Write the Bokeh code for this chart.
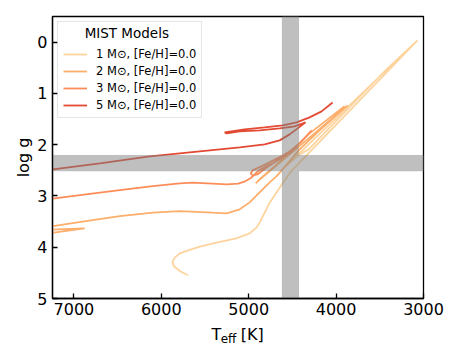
from bokeh.plotting import figure
from bokeh.models import Range1d, Label, FixedTicker, Legend, LegendItem
from bokeh.layouts import column
from bokeh.embed import file_html
from bokeh.resources import INLINE

# axis limits and ticks
X_START, X_END = 7245, 3000
Y_TOP, Y_BOTTOM = -0.5, 5.0
x_ticks = [7000, 6000, 5000, 4000, 3000]
y_ticks = [0, 1, 2, 3, 4, 5]

# highlighted bands
teff_band = [4615, 4430]
logg_band = [2.21, 2.51]

# MIST tracks (Teff [K], log g)
m1_teff = [5694, 5789, 5858, 5872, 5846, 5789, 5694, 5560, 5369, 5141, 4989, 4912, 4875, 4817,
           4760, 4684, 4608, 4512, 4272, 3720, 3389, 3069,
           4566, 4417, 4314, 3760, 3423, 3069]
m1_logg = [4.548, 4.464, 4.366, 4.288, 4.203, 4.119, 4.060, 3.988, 3.910, 3.827, 3.729, 3.618, 3.520, 3.326,
           3.131, 2.936, 2.741, 2.515, 2.092, 1.117, 0.532, -0.033,
           2.404, 2.189, 2.092, 1.117, 0.532, -0.033]

m2_teff = [7300, 6878, 7300, 7300, 7240, 6863, 6475, 6098, 5789, 5412, 5252, 5103, 4989, 4875,
           4760, 4680, 4612, 4417, 4189, 3869, 4897, 4920, 4852, 4703, 4532, 4303, 3903]
m2_logg = [3.73, 3.632, 3.66, 3.59, 3.587, 3.489, 3.392, 3.326, 3.294, 3.326, 3.339, 3.261, 3.125, 2.930,
           2.735, 2.612, 2.481, 2.092, 1.721, 1.234, 2.715, 2.754, 2.637, 2.423, 2.150, 1.780, 1.250]

m3_teff = [7240, 6863, 6475, 6098, 5789, 5640, 5412, 5252, 5120, 5040, 4975, 4932, 4897, 4840, 4726,
           4612, 4509, 4440, 4600, 4800, 4954, 4977, 4954, 4900, 4760, 4589, 4417, 4280]
m3_logg = [3.05, 2.969, 2.885, 2.807, 2.754, 2.741, 2.760, 2.774, 2.760, 2.715, 2.650, 2.579, 2.520, 2.462, 2.365,
           2.248, 2.131, 2.034, 2.200, 2.380, 2.500, 2.560, 2.600, 2.580, 2.404, 2.209, 1.975, 1.721]

m5_teff = [7240, 6703, 6132, 5560, 5103, 4817, 4646, 4532, 4440, 4349, 4474, 4646, 4875, 5103, 5252,
           5275, 5046, 4817, 4612, 4452, 4303, 4166, 4040]
m5_logg = [2.48, 2.365, 2.228, 2.131, 2.053, 1.994, 1.916, 1.799, 1.682, 1.565, 1.643, 1.682, 1.721, 1.741,
           1.780, 1.760, 1.702, 1.663, 1.624, 1.565, 1.468, 1.351, 1.176]

labels = ["1 M\u2299, [Fe/H]=0.0", "2 M\u2299, [Fe/H]=0.0", "3 M\u2299, [Fe/H]=0.0", "5 M\u2299, [Fe/H]=0.0"]
colors = ["#fdd49e", "#fdae6b", "#fc8d59", "#e34a33"]
tracks = [(m1_teff, m1_logg), (m2_teff, m2_logg), (m3_teff, m3_logg), (m5_teff, m5_logg)]
legend_title = "MIST Models"
x_label_parts = ["T", "eff", "[K]"]
y_label = "log g"

FONT = "DejaVu Sans"

p = figure(frame_width=371, frame_height=282,
           x_range=Range1d(X_START, X_END), y_range=Range1d(Y_BOTTOM, Y_TOP),
           output_backend="svg", toolbar_location=None, tools="",
           min_border_left=52, min_border_right=31, min_border_top=16, min_border_bottom=23)
p.background_fill_color = "white"
p.border_fill_color = "white"
p.grid.visible = False
p.outline_line_color = "black"
p.outline_line_width = 1.3

items = []
for (tx, lg), c, lab in zip(tracks, colors, labels):
    r = p.line(tx, lg, line_color=c, line_width=1.8)
    items.append(LegendItem(label=lab, renderers=[r]))

# grey cross-shaped band (drawn above the tracks)
vx0, vx1 = teff_band
hy0, hy1 = logg_band
px = [X_START, vx0, vx0, vx1, vx1, X_END, X_END, vx1, vx1, vx0, vx0, X_START]
py = [hy0, hy0, Y_TOP, Y_TOP, hy0, hy0, hy1, hy1, Y_BOTTOM, Y_BOTTOM, hy1, hy1]
p.patch(px, py, fill_color="#808080", fill_alpha=0.5, line_color="#808080", line_alpha=0.35, line_width=1)

for ax in (p.xaxis[0], p.yaxis[0]):
    ax.major_tick_in = 5
    ax.major_tick_out = 0
    ax.minor_tick_in = 0
    ax.minor_tick_out = 0
    ax.major_tick_line_width = 1.3
    ax.axis_line_width = 1.3
    ax.major_label_text_font = FONT
    ax.major_label_text_font_size = "16px"
    ax.major_label_text_color = "black"
    ax.major_label_standoff = 5
    ax.axis_label_text_font = FONT
    ax.axis_label_text_font_size = "16px"
    ax.axis_label_text_font_style = "normal"
    ax.axis_label_text_color = "black"

p.xaxis.ticker = FixedTicker(ticks=x_ticks)
p.yaxis.ticker = FixedTicker(ticks=y_ticks)
p.xaxis.major_label_standoff = 4
p.yaxis.axis_label = y_label
p.yaxis.axis_label_standoff = 1

legend = Legend(items=items, location="top_left", title=" ")
legend.title_text_font = FONT
legend.title_text_font_size = "13.5px"
legend.title_text_font_style = "normal"
legend.title_standoff = 4
legend.label_text_font = FONT
legend.label_text_font_size = "11.5px"
legend.label_text_color = "black"
legend.glyph_width = 24
legend.glyph_height = 14
legend.label_height = 14
legend.label_standoff = 9
legend.spacing = 3
legend.padding = 5
legend.margin = 5
legend.border_line_color = "#cccccc"
legend.border_line_width = 1
legend.background_fill_alpha = 0.0
p.add_layout(legend)

# centred legend title
p.add_layout(Label(x=6395, y=-0.17, text=legend_title, level="overlay",
                   text_font=FONT, text_font_size="13.5px", text_color="black",
                   text_baseline="middle", text_align="center"))

# strip below the main plot carrying the x-axis label (with subscript)
p2 = figure(frame_width=371, frame_height=29, x_range=p.x_range, y_range=Range1d(0, 1),
            output_backend="svg", toolbar_location=None, tools="",
            x_axis_type=None, y_axis_type=None,
            min_border_left=52, min_border_right=31, min_border_top=0, min_border_bottom=0)
p2.grid.visible = False
p2.outline_line_color = None
p2.background_fill_color = "white"
p2.border_fill_color = "white"
p2.add_layout(Label(x=5427, y=0.55, text=x_label_parts[0],
                    text_font=FONT, text_font_size="16px", text_color="black",
                    text_baseline="alphabetic", text_align="left"))
p2.add_layout(Label(x=5320, y=0.41, text=x_label_parts[1],
                    text_font=FONT, text_font_size="12px", text_color="black",
                    text_baseline="alphabetic", text_align="left"))
p2.add_layout(Label(x=5092, y=0.55, text=x_label_parts[2],
                    text_font=FONT, text_font_size="16px", text_color="black",
                    text_baseline="alphabetic", text_align="left"))

layout = column(p, p2, spacing=0)
open("out.html", "w").write(file_html(layout, INLINE))
